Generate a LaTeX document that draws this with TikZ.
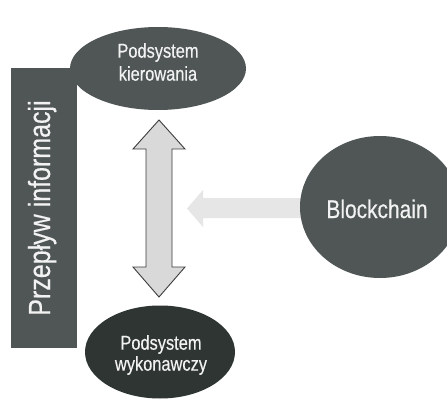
\documentclass[tikz,border=0pt]{standalone}
\usepackage{fontspec}
\newfontfamily\narrowsans[FakeStretch=0.82,FakeBold=0.4]{Liberation Sans}
\usetikzlibrary{shapes.geometric}
\definecolor{slate}{HTML}{4F5655}
\definecolor{deepslate}{HTML}{2E3533}
\definecolor{shaftgray}{HTML}{D9D9D9}
\definecolor{paleflow}{HTML}{E6E6E6}
\definecolor{edgegray}{HTML}{3C3C3C}
\definecolor{labelwhite}{HTML}{F2F2F2}

\begin{document}
\begin{tikzpicture}[x=1pt,y=-1pt,
  blob/.style={ellipse, inner sep=0pt, draw=none},
  caption/.style={text=labelwhite, align=center, inner sep=0pt,
    font=\narrowsans\fontsize{20}{22}\selectfont},
  flow/.style={fill=shaftgray, draw=edgegray, line width=0.9pt, line join=miter},
]
\useasboundingbox (0,0) rectangle (447,401);
\fill[white] (0,0) rectangle (447,401);

% vertical information-flow bar
\node[fill=slate, inner sep=0pt, minimum width=66pt, minimum height=280pt,
      anchor=north west] (bar) at (11,68) {};
\node[rotate=90, anchor=base, text=labelwhite, inner sep=0pt,
      font=\narrowsans\fontsize{30.5}{34}\selectfont] (barlabel) at (50,208)
      {Przepływ informacji};

% control and execution subsystems
\node[blob, fill=slate, minimum width=176pt, minimum height=83pt] (ctrl) at (158,68.5) {};
\node[caption, font=\narrowsans\fontsize{20}{23}\selectfont] (ctrltext) at (158,62)
      {Podsystem\\kierowania};

\node[blob, fill=deepslate, minimum width=150pt, minimum height=93pt] (exec) at (160,352) {};
\node[caption, font=\narrowsans\fontsize{20}{21}\selectfont] (exectext) at (161,355)
      {Podsystem\\wykonawczy};

% two-way exchange between the subsystems
\coordinate (uptip) at (159,120);
\coordinate (downtip) at (159,297);
\draw[flow] (uptip) -- ++(26,29) -- ++(-13,0) -- (172,267) -- ++(13,0)
  -- (downtip) -- ++(-26,-30) -- ++(13,0) -- (146,149) -- ++(-13,0) -- cycle;

% blockchain feeding into the exchange
\fill[paleflow] (320,198) -- (203,198) -- (203,190) -- (187,208.5) -- (203,227)
  -- (203,218) -- (320,218) -- cycle;
\node[blob, fill=slate, minimum width=160pt, minimum height=142pt] (chain) at (380,207) {};
\node[caption, anchor=base, font=\narrowsans\fontsize{25.5}{28}\selectfont] (chaintext)
      at (377,218) {Blockchain};
\end{tikzpicture}
\end{document}
